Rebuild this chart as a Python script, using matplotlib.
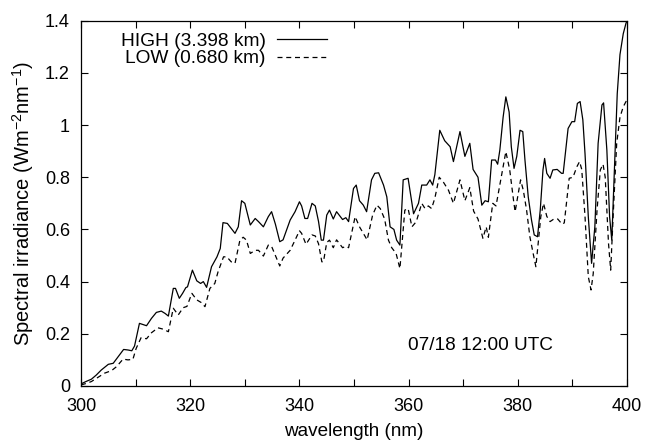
import numpy as np
import matplotlib
matplotlib.use('Agg')
import matplotlib.pyplot as plt
from matplotlib.ticker import MultipleLocator

plt.rcParams['font.family'] = ['Liberation Sans', 'DejaVu Sans']
plt.rcParams['font.size'] = 13

# HIGH site (3.398 km)
wl_high = [300.0, 301.0, 301.9, 302.8, 303.7, 305.0, 305.9, 306.8, 307.8, 308.6,
           309.3, 309.8, 310.7, 312.0, 312.9, 313.8, 314.7, 315.4, 316.0, 316.9,
           317.3, 318.0, 318.6, 319.2, 319.5, 320.4, 321.2, 321.9, 322.4, 323.0,
           323.9, 324.9, 325.5, 326.0, 326.8, 327.5, 328.2, 328.8, 329.4, 330.0,
           331.0, 331.9, 332.5, 333.4, 334.3, 334.9, 335.6, 336.4, 337.0, 338.3,
           339.2, 340.0, 340.4, 341.0, 341.5, 342.3, 342.9, 343.5, 344.0, 344.4,
           345.0, 345.5, 346.2, 346.8, 347.9, 348.5, 349.0, 349.9, 350.4, 351.0,
           351.7, 352.3, 353.2, 353.8, 354.5, 355.4, 356.0, 356.6, 357.3, 357.8,
           358.4, 359.0, 359.9, 360.9, 361.8, 362.4, 363.3, 363.9, 364.4, 364.8,
           365.7, 366.6, 367.6, 368.2, 369.4, 370.3, 371.2, 371.8, 372.7, 373.4,
           374.0, 374.6, 375.2, 375.9, 376.3, 376.7, 377.3, 377.8, 378.4, 378.8,
           379.3, 379.8, 380.4, 380.9, 381.3, 381.9, 382.5, 383.0, 383.6, 384.1,
           384.6, 384.9, 385.3, 385.9, 386.4, 387.2, 388.0, 388.3, 389.2, 389.9,
           390.4, 390.9, 391.4, 391.9, 392.3, 392.9, 393.5, 394.1, 394.7, 395.4,
           395.7, 396.3, 396.8, 397.2, 397.8, 398.2, 398.7, 399.3, 399.8, 400.0]
irr_high = [0.008, 0.018, 0.026, 0.042, 0.061, 0.083, 0.087, 0.112, 0.140, 0.138,
            0.135, 0.153, 0.240, 0.231, 0.259, 0.282, 0.287, 0.278, 0.268, 0.374,
            0.374, 0.336, 0.355, 0.377, 0.380, 0.444, 0.403, 0.393, 0.400, 0.378,
            0.457, 0.495, 0.527, 0.626, 0.623, 0.604, 0.585, 0.610, 0.710, 0.700,
            0.617, 0.642, 0.630, 0.610, 0.649, 0.668, 0.620, 0.553, 0.560, 0.636,
            0.668, 0.706, 0.690, 0.642, 0.642, 0.700, 0.690, 0.630, 0.559, 0.559,
            0.655, 0.674, 0.640, 0.668, 0.638, 0.645, 0.630, 0.757, 0.770, 0.710,
            0.693, 0.668, 0.790, 0.815, 0.817, 0.770, 0.725, 0.610, 0.600, 0.559,
            0.540, 0.790, 0.796, 0.660, 0.700, 0.770, 0.770, 0.790, 0.770, 0.810,
            0.980, 0.940, 0.917, 0.860, 0.975, 0.880, 0.930, 0.830, 0.800, 0.693,
            0.710, 0.706, 0.866, 0.866, 0.850, 0.904, 1.030, 1.108, 1.050, 0.917,
            0.834, 0.880, 0.980, 0.975, 0.866, 0.725, 0.636, 0.579, 0.572, 0.674,
            0.828, 0.872, 0.815, 0.796, 0.828, 0.830, 0.815, 0.815, 0.987, 1.013,
            1.013, 1.083, 1.090, 1.020, 0.890, 0.649, 0.470, 0.610, 0.930, 1.077,
            1.085, 0.904, 0.649, 0.559, 0.890, 1.120, 1.270, 1.350, 1.390, 1.400]

# LOW site (0.680 km)
wl_low = [300.0, 301.0, 301.9, 303.1, 304.3, 305.6, 306.5, 307.7, 308.6, 309.5,
          310.1, 311.0, 312.0, 312.9, 314.1, 315.0, 316.0, 316.9, 317.8, 318.7,
          319.4, 320.3, 321.2, 322.0, 322.7, 323.6, 324.5, 325.1, 326.1, 326.7,
          327.5, 328.2, 329.1, 329.7, 330.3, 331.0, 331.9, 332.5, 333.4, 334.3,
          334.9, 335.8, 336.4, 337.0, 338.3, 339.2, 340.0, 340.4, 341.2, 342.3,
          342.9, 343.5, 344.1, 344.4, 345.0, 345.5, 346.2, 346.8, 347.9, 348.5,
          349.0, 350.2, 351.0, 351.7, 352.4, 353.4, 354.2, 354.8, 355.6, 356.3,
          356.9, 357.7, 358.4, 359.3, 359.9, 360.6, 361.4, 362.4, 363.0, 363.6,
          364.2, 364.8, 365.6, 366.4, 367.3, 368.2, 369.4, 370.3, 371.2, 371.9,
          372.7, 373.6, 374.2, 374.6, 375.4, 376.0, 376.7, 377.8, 378.5, 379.2,
          379.5, 380.5, 381.0, 381.6, 382.2, 382.8, 383.3, 384.2, 384.7, 385.3,
          385.9, 386.6, 387.3, 388.1, 388.5, 389.4, 390.1, 390.8, 391.3, 391.7,
          392.3, 392.9, 393.4, 393.8, 394.5, 395.1, 395.6, 396.0, 396.6, 397.0,
          397.5, 398.1, 398.7, 399.3, 399.8, 400.0]
irr_low = [0.004, 0.010, 0.017, 0.033, 0.049, 0.059, 0.074, 0.103, 0.100, 0.102,
           0.144, 0.185, 0.181, 0.204, 0.223, 0.218, 0.208, 0.298, 0.272, 0.300,
           0.305, 0.355, 0.330, 0.320, 0.304, 0.374, 0.393, 0.438, 0.495, 0.495,
           0.476, 0.470, 0.559, 0.570, 0.559, 0.508, 0.520, 0.520, 0.498, 0.540,
           0.535, 0.490, 0.460, 0.490, 0.520, 0.559, 0.595, 0.585, 0.543, 0.579,
           0.575, 0.545, 0.476, 0.476, 0.550, 0.559, 0.530, 0.560, 0.530, 0.535,
           0.530, 0.649, 0.610, 0.585, 0.560, 0.655, 0.693, 0.680, 0.640, 0.559,
           0.530, 0.508, 0.450, 0.674, 0.680, 0.610, 0.630, 0.700, 0.680, 0.690,
           0.680, 0.720, 0.800, 0.780, 0.750, 0.700, 0.790, 0.710, 0.760, 0.670,
           0.640, 0.566, 0.610, 0.570, 0.700, 0.690, 0.770, 0.898, 0.830, 0.713,
           0.668, 0.790, 0.750, 0.674, 0.572, 0.508, 0.457, 0.649, 0.700, 0.650,
           0.630, 0.640, 0.640, 0.620, 0.625, 0.796, 0.800, 0.840, 0.860, 0.830,
           0.649, 0.419, 0.368, 0.430, 0.674, 0.828, 0.850, 0.800, 0.547, 0.444,
           0.674, 0.930, 1.030, 1.070, 1.090, 1.095]

fig = plt.figure(figsize=(6.45, 4.43), dpi=100)
ax = fig.add_axes([0.1256, 0.1287, 0.8466, 0.8246])

ax.plot(wl_high, irr_high, color='black', lw=0.9, label='HIGH (3.398 km)')
ax.plot(wl_low, irr_low, color='black', lw=0.9, linestyle=(0, (4, 3)),
        label='LOW (0.680 km)')

ax.set_xlim(300, 400)
ax.set_ylim(0, 1.4)
ax.xaxis.set_major_locator(MultipleLocator(20))
ax.xaxis.set_minor_locator(MultipleLocator(10))
ax.yaxis.set_major_locator(MultipleLocator(0.2))
ax.yaxis.set_major_formatter(plt.FuncFormatter(lambda v, p: ('%g' % round(v, 1))))
ax.tick_params(which='both', direction='in', top=True, right=True, length=5, width=0.8)
ax.tick_params(axis='x', labelsize=13, pad=8.5)
ax.tick_params(axis='y', labelsize=13, pad=8)
for s in ax.spines.values():
    s.set_linewidth(0.9)

ax.set_xlabel('wavelength (nm)', labelpad=6, fontsize=13.6)
ax.set_ylabel('Spectral irradiance (Wm$^{\\mathregular{-2}}$nm$^{\\mathregular{-1}}$)',
              labelpad=6, fontsize=14.5)

ax.legend(loc='upper right', bbox_to_anchor=(0.4505, 0.968), frameon=False,
          markerfirst=False, handlelength=2.6, borderpad=0, borderaxespad=0,
          labelspacing=0.0, handletextpad=0.6, fontsize=13.8)

ax.text(373.2, 0.157, '07/18 12:00 UTC', ha='center', va='center', fontsize=13.7)

fig.savefig('out.png', dpi=100)
